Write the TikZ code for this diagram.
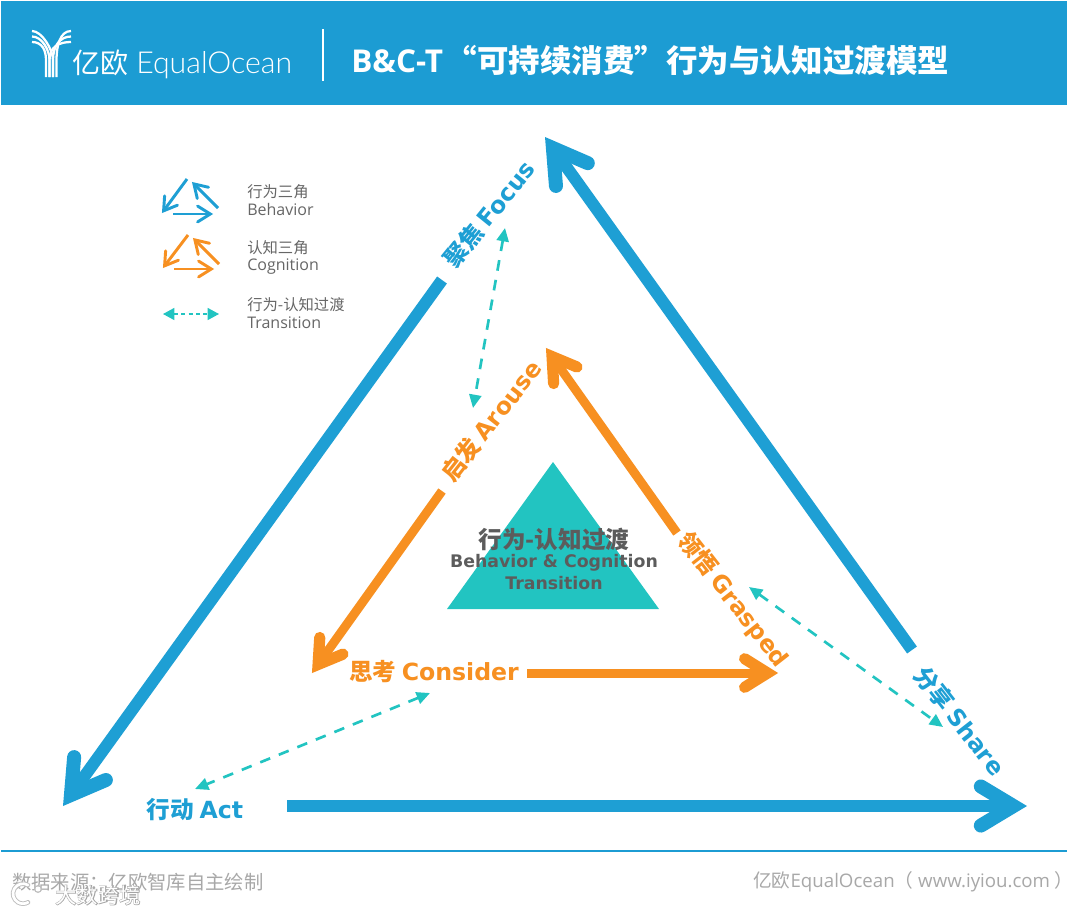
\documentclass[tikz,border=0pt]{standalone}
\usepackage{fontspec}
\usetikzlibrary{arrows.meta,calc}
\setmainfont{Open Sans}
\newfontfamily\cjk{Noto Sans CJK SC}
\newfontfamily\dv{DejaVu Sans}
\newfontfamily\lat{Lato Light}
\newfontfamily\wmhalo[FakeBold=5]{Noto Sans CJK SC}
\definecolor{hdr}{HTML}{1C9CD3}
\definecolor{bl}{HTML}{1E9FD4}
\definecolor{og}{HTML}{F79021}
\definecolor{tl}{HTML}{22C4C1}
\definecolor{tx}{HTML}{666666}
\definecolor{ft}{HTML}{A8A8A8}
\newcommand{\fs}[1]{\fontsize{#1}{#1}\selectfont}
% #1 shaft style, #2 head style, #3 tip, #4 direction, #5 barb length, #6 half angle, #7 miter back-off, #8 start
\newcommand{\barbarrow}[8]{%
  \draw[#1,line cap=butt] (#8) -- ($(#3)+(#4+180:#7)$);
  \draw[#2,line cap=round,line join=miter,miter limit=10]
    ($(#3)+(#4+180:#7)+(#4+180+#6:#5)$) -- ($(#3)+(#4+180:#7)$) -- ($(#3)+(#4+180:#7)+(#4+180-#6:#5)$);
}
\tikzset{
  big/.style={line width=9pt,draw=bl},
  bighead/.style={line width=10.5pt,draw=bl},
  mid/.style={line width=6.75pt,draw=og},
  midhead/.style={line width=8.4pt,draw=og},
  trans/.style={line width=2pt,draw=tl,dash pattern=on 8pt off 7pt,{Triangle[length=10pt,width=9pt,fill=tl]}-{Triangle[length=10pt,width=9pt,fill=tl]}},
  lgb/.style={line width=2.2pt,draw=bl},
  lgo/.style={line width=2.2pt,draw=og},
  lgt/.style={line width=.9pt,draw=tl,dash pattern=on 3pt off 2.5pt,{Triangle[length=8.5pt,width=9pt,fill=tl]}-{Triangle[length=8.5pt,width=9pt,fill=tl]}},
  lab/.style={inner sep=0pt,font=\dv\bfseries\fs{17.7}},
  lgd/.style={inner sep=0pt,anchor=west,text=tx,font=\fs{12}},
  lgc/.style={inner sep=0pt,anchor=west,text=tx,font=\cjk\fs{11.5}},
  logo/.style={draw=white,line width=1.7pt},
}
\begin{document}
\begin{tikzpicture}[x=0.75pt,y=-0.75pt]
\useasboundingbox (0,0) rectangle (1080,914);
\fill[white] (0,0) rectangle (1080,914);
% header
\fill[hdr] (1,1) rectangle (1067,105);
\foreach \a/\b in {46/42,49.5/36.5,53/31}{
  \draw[logo] (\a,77) -- (\a,60) .. controls (\a,50) and (42,\b) .. (32,\b);
}
\foreach \a/\b in {56.5/31,53/36.5,49.5/42}{
  \draw[logo] (\a,77) -- (\a,60) .. controls (\a,46) and (60,\b) .. (71,\b);
}
\node[inner sep=0pt,anchor=west,text=white] (brand) at (72,64) {\fs{21}\cjk 亿欧\hspace{6pt}\lat\fs{22.7}EqualOcean};
\draw[white,line width=1.5pt] (323,29) -- (323,81);
\node[inner sep=0pt,anchor=west,text=white] (title) at (351,60) {\fs{23.6}\bfseries B\&C-T\hspace{2pt}\cjk “可持续消费”行为与认知过渡模型};
% central triangle
\fill[tl] (553,462) -- (659,609) -- (447,609) -- cycle;
\node[inner sep=0pt,text=tx!90!black] (cn) at (554,539) {\cjk\bfseries\fs{17.7}行为-认知过渡};
\node[inner sep=0pt,text=tx!90!black,font=\dv\bfseries\fs{13}] (en1) at (554,563) {Behavior \& Cognition};
\node[inner sep=0pt,text=tx!90!black,font=\dv\bfseries\fs{13}] (en2) at (554,583) {Transition};
% outer triangle
\coordinate (b1) at (287,806); \coordinate (b2) at (1027,806);
\coordinate (l1) at (442,280); \coordinate (l2) at (63,806);
\coordinate (r1) at (912,650); \coordinate (r2) at (545,137);
\barbarrow{big}{bighead}{b2}{0}{38}{31}{13.6}{b1}
\barbarrow{big}{bighead}{l2}{125.8}{38}{31}{13.6}{l1}
\barbarrow{big}{bighead}{r2}{234.4}{38}{31}{13.6}{r1}
% inner triangle
\coordinate (ob1) at (527,673); \coordinate (ob2) at (778,673);
\coordinate (ol1) at (442,491); \coordinate (ol2) at (312,673);
\coordinate (or1) at (677,533); \coordinate (or2) at (546,348);
\barbarrow{mid}{midhead}{ob2}{0}{27}{32}{10.5}{ob1}
\barbarrow{mid}{midhead}{ol2}{125.5}{27}{32}{10.5}{ol1}
\barbarrow{mid}{midhead}{or2}{234.7}{27}{32}{10.5}{or1}
% labels
\node[lab,text=bl,rotate=51] (focus) at (489,214) {\cjk\bfseries 聚焦 \dv\bfseries Focus};
\node[lab,text=bl,rotate=-52] (share) at (960,721) {\cjk\bfseries 分享 \dv\bfseries Share};
\node[lab,text=bl] (act) at (195,810) {\cjk\bfseries 行动 \dv\bfseries Act};
\node[lab,text=og,rotate=52] (arouse) at (491,421) {\cjk\bfseries 启发 \dv\bfseries Arouse};
\node[lab,text=og,rotate=-52] (grasped) at (733,600) {\cjk\bfseries 领悟 \dv\bfseries Grasped};
\node[lab,text=og] (consider) at (434,672) {\cjk\bfseries 思考 \dv\bfseries Consider};
% transitions
\coordinate (t1) at (505,228); \coordinate (t2) at (473,408);
\coordinate (t3) at (430,693); \coordinate (t4) at (195,789);
\coordinate (t5) at (749,587); \coordinate (t6) at (943,727);
\draw[trans] (t1) -- (t2);
\draw[trans] (t3) -- (t4);
\draw[trans] (t5) -- (t6);
% legend
\coordinate (a1) at (187,179); \coordinate (a2) at (162,213);
\coordinate (a3) at (218,208); \coordinate (a4) at (192,182);
\coordinate (a5) at (173,214); \coordinate (a6) at (213,214);
\barbarrow{lgb}{lgb}{a2}{126}{15}{32}{2.7}{a1}
\barbarrow{lgb}{lgb}{a4}{225}{15}{32}{2.7}{a3}
\barbarrow{lgb}{lgb}{a6}{0}{15}{32}{2.7}{a5}
\coordinate (c1) at (188,235); \coordinate (c2) at (163,268);
\coordinate (c3) at (219,264); \coordinate (c4) at (193,238);
\coordinate (c5) at (174,269); \coordinate (c6) at (214,269);
\barbarrow{lgo}{lgo}{c2}{126}{15}{32}{2.7}{c1}
\barbarrow{lgo}{lgo}{c4}{225}{15}{32}{2.7}{c3}
\barbarrow{lgo}{lgo}{c6}{0}{15}{32}{2.7}{c5}
\coordinate (d1) at (163,314); \coordinate (d2) at (219,314);
\draw[lgt] (d1) -- (d2);
\node[lgc] (g1) at (247,192) {行为三角};
\node[lgd] (g2) at (247,209.5) {Behavior};
\node[lgc] (g3) at (247,248) {认知三角};
\node[lgd] (g4) at (247,267) {Cognition};
\node[lgc] (g5) at (247,305) {行为-认知过渡};
\node[lgd] (g6) at (247,323) {Transition};
% footer
\draw[hdr,line width=2.2pt] (1,851) -- (1067,851);
\node[inner sep=0pt,anchor=west,text=ft] (src) at (12,882) {\cjk\fs{14.5}数据来源：亿欧智库自主绘制};
\node[inner sep=0pt,anchor=west,text=ft] (site) at (753,882) {\fs{14}\cjk 亿欧\rmfamily EqualOcean\cjk （\rmfamily\ www.iyiou.com\ \cjk ）};
% watermark
\draw[black!25,line width=3.4pt,line cap=round] (28,885) arc[start angle=-60,end angle=-300,radius=10];
\fill[black!25] (38,889) circle (4);
\node[inner sep=0pt,anchor=west,text=black!35] (wm0) at (55,895) {\wmhalo\fs{16}大数跨境};
\node[inner sep=0pt,anchor=west,text=white] (wm) at (55,895) {\cjk\fs{16}大数跨境};
\draw[white,line width=2pt,line cap=round] (28,885) arc[start angle=-60,end angle=-300,radius=10];
\fill[white] (38,889) circle (2.5);
\end{tikzpicture}
\end{document}
